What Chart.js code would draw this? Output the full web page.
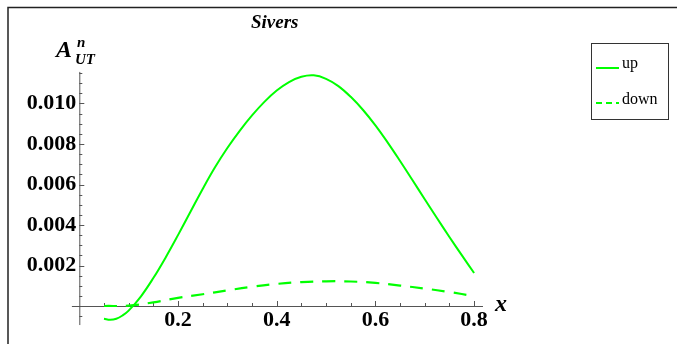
<!DOCTYPE html>
<html>
<head>
<meta charset="utf-8">
<script src="https://cdn.jsdelivr.net/npm/chart.js@4.4.1/dist/chart.umd.min.js"></script>
<style>
  body { margin: 0; background: #fff; }
  #wrap { width: 677px; height: 344px; }
</style>
</head>
<body>
<div id="wrap"><canvas id="siversChart" width="677" height="344"></canvas></div>
<script>
// values
const xUp = [0.05, 0.0625, 0.075, 0.0875, 0.1, 0.125, 0.15, 0.175, 0.2, 0.225, 0.25, 0.275, 0.3, 0.325, 0.35, 0.375, 0.4, 0.425, 0.45, 0.475,
             0.5, 0.525, 0.55, 0.575, 0.6, 0.625, 0.65, 0.675, 0.7, 0.725, 0.75, 0.775, 0.8];
const upVals = [-0.00063, -0.00068, -0.00063, -0.00047, -0.00023, 0.00048, 0.00138, 0.0024, 0.0035, 0.00464, 0.00578, 0.00685, 0.0078, 0.00865, 0.00941, 0.01008, 0.01064, 0.01106, 0.01132, 0.01139,
                0.01122, 0.01086, 0.01033, 0.00968, 0.00892, 0.00807, 0.00716, 0.00622, 0.00527, 0.00433, 0.00341, 0.00251, 0.00163];
const xDown = [0.05, 0.1, 0.15, 0.2, 0.25, 0.3, 0.35, 0.4, 0.45, 0.5, 0.55, 0.6, 0.65, 0.7, 0.75, 0.8];
const downVals = [0.0, 0.00002, 0.00018, 0.0004, 0.00058, 0.00077, 0.00095, 0.00109, 0.00118, 0.00122, 0.00121, 0.00114, 0.00101, 0.00086, 0.00069, 0.00049];

const xTickLabels = ['0.2', '0.4', '0.6', '0.8'];
const yTickLabels = ['0.002', '0.004', '0.006', '0.008', '0.010'];
const seriesNames = ['up', 'down'];

const serif = "'Liberation Serif', 'Times New Roman', serif";
const green = '#00ff00';
const axisGray = '#555';

// Mathematica style frame, axes, ticks, title and legend
const mmaDecor = {
    id: 'mmaDecor',
    beforeDatasetsDraw(chart) {
        const ctx = chart.ctx;
        const xs = chart.scales.x, ys = chart.scales.y;
        const x0 = xs.getPixelForValue(0), y0 = ys.getPixelForValue(0);
        ctx.save();
        ctx.strokeStyle = axisGray;
        ctx.lineWidth = 1;
        // axes
        ctx.beginPath();
        ctx.moveTo(xs.getPixelForValue(-0.015), y0 + 0.5);
        ctx.lineTo(xs.getPixelForValue(0.818), y0 + 0.5);
        ctx.moveTo(x0 + 0.5, ys.getPixelForValue(0.01156));
        ctx.lineTo(x0 + 0.5, ys.getPixelForValue(-0.00094));
        // x ticks
        for (let i = 1; i <= 16; i++) {
            const px = Math.round(xs.getPixelForValue(i * 0.05)) + 0.5;
            const len = i % 4 === 0 ? 5 : 3;
            ctx.moveTo(px, y0);
            ctx.lineTo(px, y0 - len);
        }
        // y ticks
        for (let i = -1; i <= 23; i++) {
            if (i === 0) continue;
            const py = Math.round(ys.getPixelForValue(i * 0.0005)) + 0.5;
            const len = i % 4 === 0 ? 5 : 3;
            ctx.moveTo(x0, py);
            ctx.lineTo(x0 + len, py);
        }
        ctx.stroke();

        // tick labels
        ctx.fillStyle = '#000';
        ctx.font = 'bold 22px ' + serif;
        ctx.textAlign = 'center';
        ctx.textBaseline = 'top';
        xTickLabels.forEach(t => {
            ctx.fillText(t, xs.getPixelForValue(parseFloat(t)), y0 + 3);
        });
        ctx.textAlign = 'right';
        ctx.textBaseline = 'middle';
        yTickLabels.forEach(t => {
            ctx.fillText(t, x0 - 3, ys.getPixelForValue(parseFloat(t)));
        });

        // axis labels
        ctx.font = 'bold italic 24px ' + serif;
        ctx.textAlign = 'left';
        ctx.textBaseline = 'alphabetic';
        ctx.fillText('x', xs.getPixelForValue(0.818) + 12, y0 + 5);
        ctx.fillText('A', 56, 57);
        ctx.font = 'bold italic 15px ' + serif;
        ctx.fillText('n', 77, 47);
        ctx.fillText('UT', 75, 64);
        ctx.restore();
    },
    afterDraw(chart) {
        const ctx = chart.ctx;
        const xs = chart.scales.x;
        ctx.save();
        // outer frame (top and left edges only visible)
        ctx.strokeStyle = '#222';
        ctx.lineWidth = 1.5;
        ctx.beginPath();
        ctx.moveTo(8, 344);
        ctx.lineTo(8, 7.5);
        ctx.lineTo(677, 7.5);
        ctx.stroke();

        // title
        ctx.fillStyle = '#000';
        ctx.font = 'bold italic 19px ' + serif;
        ctx.textAlign = 'center';
        ctx.textBaseline = 'alphabetic';
        ctx.fillText('Sivers', xs.getPixelForValue(0.4) - 2, 28);

        // legend box
        ctx.strokeStyle = '#333';
        ctx.lineWidth = 1;
        ctx.strokeRect(591.5, 43.5, 77, 76);
        ctx.font = '16px ' + serif;
        ctx.textAlign = 'left';
        seriesNames.forEach((name, i) => {
            const ds = chart.data.datasets[i];
            const ly = i === 0 ? 68 : 103;
            ctx.strokeStyle = ds.borderColor;
            ctx.lineWidth = 2;
            ctx.setLineDash(i === 0 ? [] : [6, 4]);
            ctx.beginPath();
            ctx.moveTo(596, ly);
            ctx.lineTo(619, ly);
            ctx.stroke();
            ctx.setLineDash([]);
            ctx.fillText(name, 622, ly + (i === 0 ? 0 : 1));
        });
        ctx.restore();
    }
};

const ctx = document.getElementById('siversChart').getContext('2d');
new Chart(ctx, {
    type: 'line',
    data: {
        datasets: [{
            label: seriesNames[0],
            data: xUp.map((x, i) => ({ x: x, y: upVals[i] })),
            borderColor: green,
            borderWidth: 2,
            pointRadius: 0,
            tension: 0.4,
            fill: false
        }, {
            label: seriesNames[1],
            data: xDown.map((x, i) => ({ x: x, y: downVals[i] })),
            borderColor: green,
            borderWidth: 2.2,
            borderDash: [13, 9],
            pointRadius: 0,
            tension: 0.4,
            fill: false
        }]
    },
    options: {
        responsive: false,
        animation: false,
        layout: { padding: { left: 62, right: 190, top: 60, bottom: 14 } },
        scales: {
            x: { type: 'linear', min: -0.03506, max: 0.82614, display: false },
            y: { type: 'linear', min: -0.001185, max: 0.012148, display: false }
        },
        plugins: {
            legend: { display: false },
            tooltip: { enabled: false }
        }
    },
    plugins: [mmaDecor]
});
</script>
</body>
</html>
